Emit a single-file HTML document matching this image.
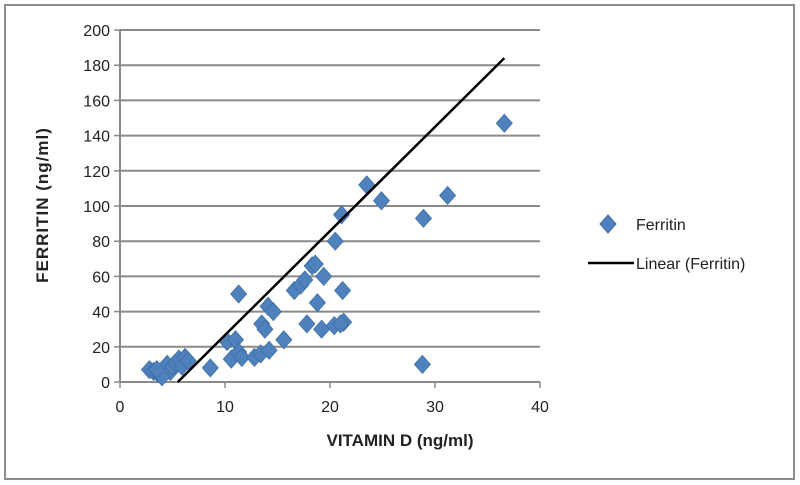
<!DOCTYPE html>
<html><head><meta charset="utf-8"><style>
html,body{margin:0;padding:0;background:#fff;}
svg{display:block;font-family:"Liberation Sans",sans-serif;}
</style></head><body>
<svg id="c" width="800" height="485" viewBox="0 0 800 485">
<rect x="5" y="5" width="789" height="474" fill="#fff" stroke="#8c8c8c" stroke-width="2"/>
<g id="grid"></g><g id="axes"></g><g id="pts"></g><g id="trend"></g>
<text x="400" y="446" text-anchor="middle" font-size="17" font-weight="bold" fill="#222">VITAMIN D (ng/ml)</text>
<text transform="translate(48,205) rotate(-90)" text-anchor="middle" font-size="17" font-weight="bold" fill="#222" letter-spacing="1">FERRITIN (ng/ml)</text>
<g>
<path d="M608,215 L616,224 L608,233 L600,224 Z" fill="#4f81bd" stroke="#3d6ea5"/>
<text x="636" y="230" font-size="16" fill="#222">Ferritin</text>
<line x1="588" y1="263" x2="634" y2="263" stroke="#000" stroke-width="2.5"/>
<text x="636" y="269" font-size="16" fill="#222">Linear (Ferritin)</text>
</g>
</svg>
<script>
const xTicks=[0,10,20,30,40];
const yTicks=[0,20,40,60,80,100,120,140,160,180,200];
const vitD=[2.8,3.2,3.6,3.9,4.2,4.5,4.8,5.0,5.3,5.6,5.9,6.2,6.5,4.0,3.5,8.6,10.2,10.6,11.0,11.3,11.6,11.3,12.8,13.4,13.5,13.8,14.2,14.1,14.6,15.6,16.6,17.2,17.6,17.8,18.3,18.6,18.8,19.2,19.4,20.4,20.5,21.1,21.2,21.3,21.0,23.5,24.9,28.8,28.9,31.2,36.6];
const ferritin=[7,6,5,4,8,10,6,9,11,13,9,14,12,3,7,8,23,13,24,17,14,50,14,16,33,30,18,43,40,24,52,55,58,33,66,67,45,30,60,32,80,95,52,34,33,112,103,10,93,106,147];
const trendX=[5.5,36.6];
const trendY=[0,184];
const NS="http://www.w3.org/2000/svg";
const X0=120,X1=540,Y0=382,Y1=30;
const sx=v=>X0+(v-0)/40*(X1-X0);
const sy=v=>Y0-(v-0)/200*(Y0-Y1);
function mk(t,a,p){const e=document.createElementNS(NS,t);for(const k in a)e.setAttribute(k,a[k]);p.appendChild(e);return e;}
const grid=document.getElementById('grid'),axes=document.getElementById('axes');
yTicks.forEach(v=>{
 if(v>0){const l=mk('line',{x1:X0,x2:X1,y1:sy(v),y2:sy(v),stroke:'#8a8a8a','stroke-width':2},grid);
 
 }
 const tk=mk('line',{x1:X0-6,x2:X0,y1:sy(v),y2:sy(v),stroke:'#8a8a8a','stroke-width':1.5},axes);
 
 
 const t=mk('text',{x:X0-10,y:sy(v)+6,'text-anchor':'end','font-size':16,fill:'#222'},axes);t.textContent=v;
 
 
});
xTicks.forEach(v=>{
 const tk=mk('line',{x1:sx(v),x2:sx(v),y1:Y0,y2:Y0+6,stroke:'#8a8a8a','stroke-width':1.5},axes);
 
 
 const t=mk('text',{x:sx(v),y:Y0+30,'text-anchor':'middle','font-size':16,fill:'#222'},axes);t.textContent=v;
 
 
});
const ya=mk('line',{x1:X0,x2:X0,y1:Y1,y2:Y0,stroke:'#8a8a8a','stroke-width':2},axes);


const xa=mk('line',{x1:X0,x2:X1,y1:Y0,y2:Y0,stroke:'#8a8a8a','stroke-width':2},axes);


const pts=document.getElementById('pts');
vitD.forEach((v,i)=>{const cx=sx(v),cy=sy(ferritin[i]);
 const p=mk('path',{d:`M${cx},${cy-9} L${cx+8},${cy} L${cx},${cy+9} L${cx-8},${cy} Z`,fill:'#4f81bd',stroke:'#3d6ea5','stroke-width':0.8},pts);
 
 
});
const tl=mk('line',{x1:sx(trendX[0]),y1:sy(trendY[0]),x2:sx(trendX[1]),y2:sy(trendY[1]),stroke:'#000','stroke-width':2.5},document.getElementById('trend'));


</script>
</body></html>
